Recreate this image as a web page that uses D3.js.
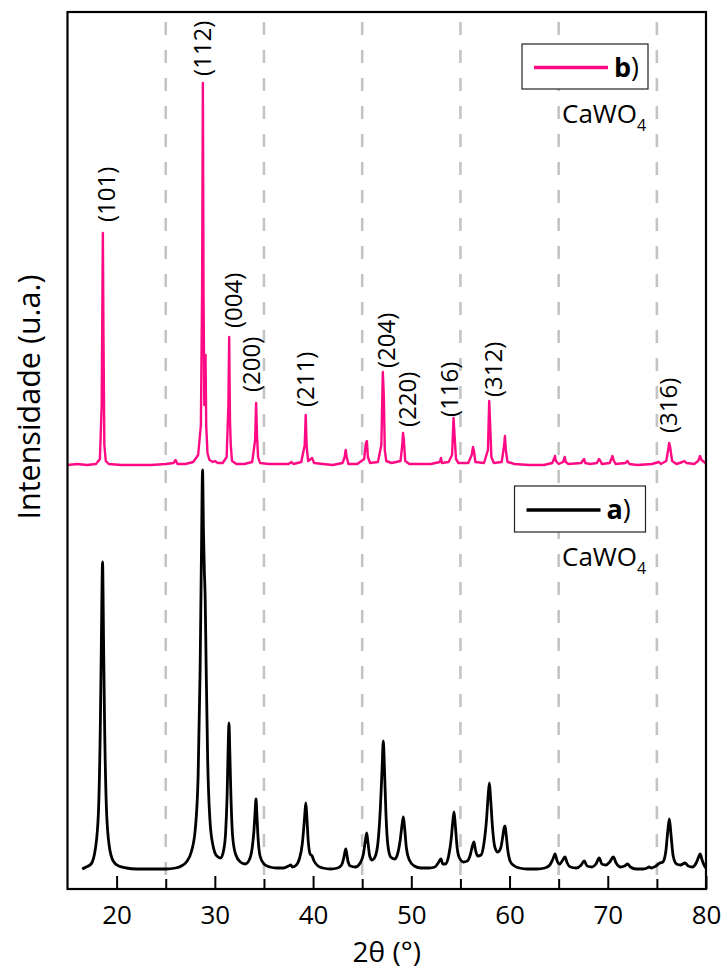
<!DOCTYPE html>
<html>
<head>
<meta charset="utf-8">
<script src="https://cdn.jsdelivr.net/npm/d3@7"></script>
<style>
  html, body { margin: 0; padding: 0; background: #fff; }
  svg { display: block; }
  text { font-family: "Open Sans", "Noto Sans", sans-serif; fill: #000; }
</style>
</head>
<body>
<svg id="chart" width="724" height="970"></svg>
<script>
// XRD patterns of CaWO4: [2θ (°), intensity (u.a.)]
// a) broad-peak sample (black)
const patternA = [
  [16.5,1],[16.9,3],[17.4,6],[17.85,22],[18.15,58],[18.35,150],[18.45,230],[18.57,308],[18.67,230],[18.77,150],
  [18.97,60],[19.25,24],[19.65,9],[20.2,4],[21.0,2],[22.0,1],[23.0,1],[24.0,1],[25.0,1],[26.0,2],
  [26.6,4],[27.1,8],[27.6,18],[28.0,40],[28.3,95],[28.5,200],[28.64,320],[28.75,400],[28.84,340],[28.93,300],
  [29.02,270],[29.12,200],[29.27,110],[29.5,50],[29.8,25],[30.2,14],[30.6,12],[30.9,20],[31.1,38],[31.25,75],
  [31.35,120],[31.44,147],[31.52,120],[31.62,80],[31.8,35],[32.1,16],[32.6,8],[33.1,6],[33.5,10],[33.8,22],
  [33.97,38],[34.08,55],[34.19,71],[34.28,55],[34.38,35],[34.6,14],[35.0,6],[35.6,3],[36.3,2],[37.0,2],
  [37.5,4],[37.72,5],[37.9,3],[38.3,5],[38.6,11],[38.9,26],[39.05,42],[39.16,56],[39.26,67],[39.36,54],
  [39.5,30],[39.7,16],[39.9,14],[40.1,9],[40.5,4],[41.0,2],[41.8,1],[42.5,2],[42.9,5],[43.1,11],
  [43.22,17],[43.33,21],[43.43,16],[43.57,8],[43.8,4],[44.3,3],[44.8,7],[45.1,15],[45.32,29],[45.46,37],
  [45.58,28],[45.77,14],[46.0,10],[46.3,13],[46.6,27],[46.85,62],[47.02,100],[47.15,129],[47.27,100],[47.42,56],
  [47.6,26],[47.9,13],[48.3,11],[48.6,16],[48.87,30],[49.07,46],[49.19,53],[49.32,42],[49.5,22],[49.8,10],
  [50.3,4],[51.0,2],[51.8,2],[52.4,3],[52.8,8],[53.02,11],[53.2,6],[53.5,6],[53.8,14],[54.07,32],
  [54.22,48],[54.35,58],[54.47,46],[54.67,22],[54.9,12],[55.3,8],[55.7,9],[56.0,15],[56.22,24],[56.38,28],
  [56.53,20],[56.75,14],[57.1,15],[57.4,27],[57.67,52],[57.82,74],[57.95,87],[58.07,72],[58.27,42],[58.5,23],
  [58.8,18],[59.1,22],[59.32,34],[59.44,42],[59.54,44],[59.65,36],[59.82,20],[60.1,8],[60.5,4],[61.0,2],
  [61.8,1],[62.8,1],[63.6,2],[64.1,5],[64.42,11],[64.63,16],[64.85,9],[65.1,6],[65.42,10],[65.65,13],
  [65.87,7],[66.2,3],[66.8,2],[67.3,5],[67.6,9],[67.9,4],[68.4,3],[68.8,6],[69.13,12],[69.4,6],
  [69.8,5],[70.2,8],[70.56,13],[70.85,7],[71.3,3],[71.7,4],[72.02,6],[72.3,3],[72.9,1],[73.6,1],
  [74.0,2],[74.2,3],[74.45,2],[74.9,4],[75.3,7],[75.6,8],[75.9,18],[76.1,38],[76.27,51],[76.43,36],
  [76.66,14],[77.0,6],[77.4,5],[77.87,7],[78.2,4],[78.6,3],[79.0,7],[79.25,13],[79.4,16],[79.6,10],
  [79.85,4],[80.0,2]
];

// b) sharp-peak sample (pink)
const patternB = [
  [15.0,0],[16.0,1],[17.0,0],[17.9,1],[18.3,6],[18.48,60],[18.6,232],[18.67,120],[18.75,20],[18.9,4],
  [19.2,1],[20.5,0],[22.0,0],[23.5,0],[25.0,1],[25.8,2],[26.0,5],[26.2,1],[27.0,1],[27.8,3],
  [28.3,10],[28.58,40],[28.7,170],[28.78,382],[28.85,170],[28.93,60],[29.0,105],[29.05,110],[29.12,40],[29.25,12],
  [29.45,5],[29.8,3],[30.0,4],[30.3,2],[30.8,2],[31.2,8],[31.38,60],[31.46,128],[31.54,45],[31.62,20],
  [31.75,4],[32.2,1],[33.0,1],[33.8,3],[34.1,25],[34.2,62],[34.3,28],[34.4,8],[34.6,2],[35.5,1],
  [36.5,1],[37.5,1],[37.8,3],[38.0,1],[38.8,3],[39.15,20],[39.25,50],[39.35,18],[39.5,4],[39.9,7],
  [40.1,2],[41.0,1],[42.0,0],[43.0,2],[43.22,8],[43.32,15],[43.42,8],[43.6,1],[44.5,1],[45.2,6],
  [45.38,22],[45.48,24],[45.58,8],[45.8,2],[46.6,3],[46.95,20],[47.1,93],[47.2,70],[47.3,15],[47.45,4],
  [48.0,2],[48.9,4],[49.08,20],[49.16,32],[49.24,25],[49.38,4],[49.8,1],[51.0,1],[52.0,1],[52.9,3],
  [53.02,7],[53.12,2],[53.8,3],[54.15,10],[54.3,47],[54.4,30],[54.55,6],[54.8,2],[55.8,2],[56.15,10],
  [56.28,18],[56.38,14],[56.52,3],[57.4,2],[57.8,15],[57.93,64],[58.03,40],[58.15,8],[58.4,2],[59.2,3],
  [59.45,20],[59.53,29],[59.63,14],[59.8,3],[60.5,1],[62.0,0],[63.5,0],[64.35,2],[64.52,6],[64.62,9],
  [64.72,4],[65.0,1],[65.45,3],[65.62,8],[65.72,3],[66.0,1],[67.3,2],[67.5,5],[67.6,6],[67.7,2],
  [68.2,1],[68.9,2],[69.1,6],[69.2,5],[69.4,1],[70.2,2],[70.48,9],[70.58,5],[70.8,1],[71.8,2],
  [72.02,4],[72.2,1],[73.0,0],[74.5,1],[75.2,3],[75.4,1],[75.95,4],[76.15,15],[76.25,22],[76.35,18],
  [76.55,4],[77.0,1],[77.6,3],[77.8,4],[78.0,2],[78.8,1],[79.2,4],[79.4,9],[79.55,5],[79.8,3],
  [80.0,1]
];

// Miller indices written above pattern b): [label, 2θ of label, intensity level of label base]
const peakLabels = [
  ["(101)", 19.0, 243],
  ["(112)", 28.7, 389],
  ["(004)", 31.92, 137],
  ["(200)", 33.69, 73],
  ["(211)", 39.21, 58],
  ["(204)", 47.45, 97],
  ["(220)", 49.55, 38],
  ["(116)", 53.86, 48],
  ["(312)", 58.36, 68],
  ["(316)", 76.16, 32]
];

const xMajorTicks = [20, 30, 40, 50, 60, 70, 80];
const xMinorTicks = [25, 35, 45, 55, 65, 75];
const dashedGuides = [25, 35, 45, 55, 65, 75];

// vertical offsets of the stacked patterns (intensity units)
const offsetA = 19;
const offsetB = 424;

const svg = d3.select("#chart");
const plotL = 67.5, plotR = 706, plotT = 12, plotB = 889;

const x = d3.scaleLinear().domain([15, 80]).range([plotL, plotR]);
const y = d3.scaleLinear().domain([0, plotB - plotT]).range([plotB, plotT]);

svg.append("defs").append("clipPath").attr("id", "plotClip")
  .append("rect").attr("x", plotL).attr("y", plotT)
  .attr("width", plotR - plotL).attr("height", plotB - plotT);

// dashed vertical guides
svg.append("g").selectAll("line").data(dashedGuides).join("line")
  .attr("x1", d => x(d)).attr("x2", d => x(d))
  .attr("y1", plotT).attr("y2", plotB)
  .attr("stroke", "#c4c4c4").attr("stroke-width", 2.6)
  .attr("stroke-dasharray", "13 15").attr("stroke-dashoffset", 18);

const plot = svg.append("g").attr("clip-path", "url(#plotClip)");

const lineA = d3.line()
  .x(d => x(d[0])).y(d => y(d[1] + offsetA))
  .curve(d3.curveMonotoneX);
const lineB = d3.line()
  .x(d => x(d[0])).y(d => y(d[1] + offsetB));

plot.append("path").datum(patternA)
  .attr("d", lineA).attr("fill", "none")
  .attr("stroke", "#000").attr("stroke-width", 2.8)
  .attr("stroke-linejoin", "round");

plot.append("path").datum(patternB)
  .attr("d", lineB).attr("fill", "none")
  .attr("stroke", "#ff0a84").attr("stroke-width", 2.4)
  .attr("stroke-linejoin", "round");

// Miller index labels
svg.append("g").selectAll("text").data(peakLabels).join("text")
  .attr("transform", d => `translate(${x(d[1])},${y(d[2] + offsetB)}) rotate(-90)`)
  .attr("dy", "0.36em")
  .attr("font-size", 24)
  .text(d => d[0]);

// axis with inward ticks
const axisMajor = d3.axisBottom(x).tickValues(xMajorTicks)
  .tickSize(-13).tickPadding(17).tickFormat(d3.format("d"));
const gx = svg.append("g").attr("transform", `translate(0,${plotB})`).call(axisMajor);
gx.select(".domain").remove();
gx.selectAll(".tick line").attr("stroke", "#000").attr("stroke-width", 2);
gx.selectAll(".tick text").attr("font-size", 26)
  .attr("font-family", "'Open Sans', sans-serif").attr("fill", "#000");

const axisMinor = d3.axisBottom(x).tickValues(xMinorTicks).tickSize(-10).tickFormat("");
const gm = svg.append("g").attr("transform", `translate(0,${plotB})`).call(axisMinor);
gm.select(".domain").remove();
gm.selectAll(".tick line").attr("stroke", "#000").attr("stroke-width", 2);

// frame
svg.append("rect").attr("x", plotL).attr("y", plotT)
  .attr("width", plotR - plotL).attr("height", plotB - plotT)
  .attr("fill", "none").attr("stroke", "#000").attr("stroke-width", 2.2);

// axis titles
svg.append("text").attr("x", (plotL + plotR) / 2).attr("y", 962)
  .attr("text-anchor", "middle").attr("font-size", 28).text("2θ (°)");
svg.append("text")
  .attr("transform", "translate(29,397) rotate(-90)")
  .attr("text-anchor", "middle").attr("dy", "0.36em")
  .attr("font-size", 30.5).text("Intensidade (u.a.)");

// legends
function legend(bx, by, bw, bh, color, key, ty) {
  const g = svg.append("g");
  g.append("rect").attr("x", bx).attr("y", by).attr("width", bw).attr("height", bh)
    .attr("fill", "#fff").attr("stroke", "#222").attr("stroke-width", 1.2);
  g.append("line").attr("x1", bx + 12).attr("x2", bx + 86)
    .attr("y1", by + bh / 2 + 1).attr("y2", by + bh / 2 + 1)
    .attr("stroke", color).attr("stroke-width", 3.4);
  const t = g.append("text").attr("x", bx + 92).attr("y", by + bh / 2 + 10).attr("font-size", 27);
  t.append("tspan").attr("font-weight", "bold").text(key);
  t.append("tspan").text(")");
  const c = svg.append("text").attr("x", 562).attr("y", ty).attr("font-size", 26);
  c.append("tspan").text("CaWO");
  c.append("tspan").attr("font-size", 16).attr("dy", 8).text("4");
}
legend(522, 44, 126, 45, "#ff0a84", "b", 123);
legend(514.5, 486, 131, 46, "#000", "a", 566);
</script>
</body>
</html>
